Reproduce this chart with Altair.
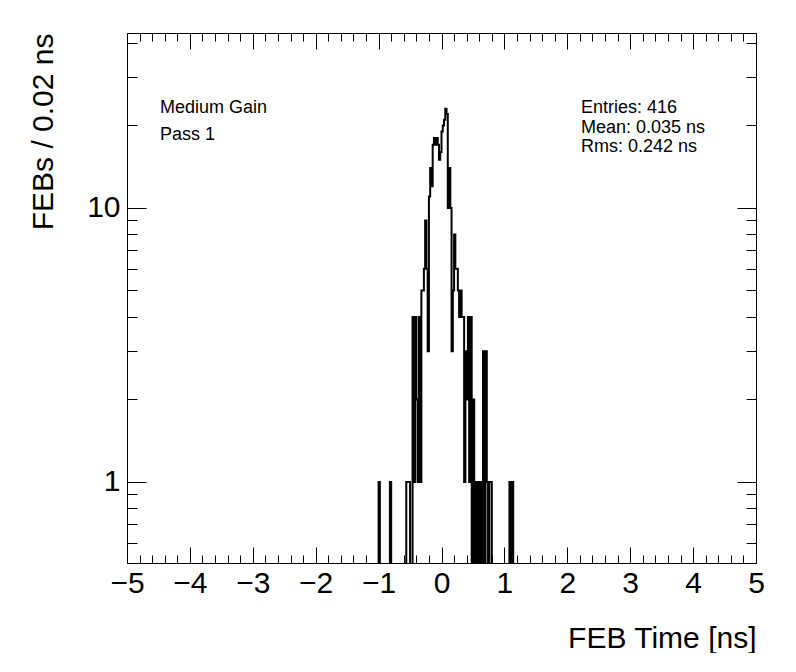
import altair as alt
import numpy as np
import pandas as pd

# ---------------- data ----------------
x_min, x_max = -5.0, 5.0
bin_width = 0.02
n_bins = 500
first_bin = 199  # index of first listed bin (bin lower edge = x_min + i*bin_width)
counts = [
    0, 1, 0, 0, 0, 0, 0, 0, 0, 0,          # 199-208
    1,                                      # 209
    0, 0, 0, 0, 0, 0, 0, 0, 0, 0, 0, 0,     # 210-221
    1, 1, 1, 0, 0,                          # 222-226
    4, 1, 4, 2, 1, 4, 1,                    # 227-233
    5, 5, 6, 9, 6, 3,                       # 234-239
    11, 14, 12,                             # 240-242
    17, 18, 17, 18, 17,                     # 243-247
    15, 16, 19, 20, 21, 23,                 # 248-253
    22, 10, 14, 10,                         # 254-257
    3, 5, 8, 6, 6, 5, 4, 5, 4, 4,           # 258-267
    1, 3, 2, 4, 1, 4, 0, 2, 0, 1, 0, 1,     # 268-279
    0, 1, 0, 3, 0, 3, 1, 0, 1, 1, 0,        # 280-290
    0, 0, 0, 0, 0, 0, 0, 0, 0, 0, 0, 0, 0,  # 291-303
    1, 0, 1, 0,                             # 304-307
]

major_x = [-5, -4, -3, -2, -1, 0, 1, 2, 3, 4, 5]
minor_x = [round(-5 + 0.2 * i, 2) for i in range(51) if i % 5 != 0]
major_y = [1, 10]
minor_y = [0.6, 0.7, 0.8, 0.9, 2, 3, 4, 5, 6, 7, 8, 9, 20, 30, 40]

left_text = ["Medium Gain", "Pass 1"]
stats_text = ["Entries: 416", "Mean: 0.035 ns", "Rms: 0.242 ns"]

x_title = "FEB Time [ns]"
y_title = "FEBs / 0.02 ns"

# ---------------- build table ----------------
full = np.zeros(n_bins)
full[first_bin:first_bin + len(counts)] = counts
edges = x_min + bin_width * np.arange(n_bins + 1)
vals = np.append(full, full[-1])
df = pd.DataFrame({"edge": np.round(edges, 4), "count": vals})
dummy = pd.DataFrame({"x": [0.0], "y": [1.0]})

W, H = 629, 530
FONT = "Liberation Sans"

xs = alt.Scale(domain=[x_min, x_max], nice=False, zero=False)
ys = alt.Scale(type="log", domain=[0.506, 43.5], nice=False)

hist = alt.Chart(df).transform_calculate(
    yplot="max(datum.count, 0.3)"
).mark_line(interpolate="step-after", color="black", strokeWidth=2, clip=True).encode(
    x=alt.X("edge:Q", scale=xs, axis=alt.Axis(
        orient="bottom", values=major_x, ticks=False, domain=False, grid=False,
        labelFont=FONT, labelFontSize=30, labelColor="black", labelPadding=5,
        labelFlush=False,
        title=x_title, titleFont=FONT, titleFontSize=30, titleFontWeight="normal",
        titleColor="black", titleAnchor="end", titleAlign="right",
        titleX=W, titleY=84, titleBaseline="alphabetic")),
    y=alt.Y("yplot:Q", scale=ys, axis=alt.Axis(
        orient="left", values=major_y, ticks=False, domain=False, grid=False,
        labelFont=FONT, labelFontSize=30, labelColor="black", labelPadding=7,
        labelFlush=False, format="d",
        title=y_title, titleFont=FONT, titleFontSize=30, titleFontWeight="normal",
        titleColor="black", titleAngle=270, titleAlign="right",
        titleX=-75, titleY=0, titleBaseline="alphabetic")),
)


def tick_layer(x_orient, y_orient, xvals, yvals, xsize, ysize):
    return alt.Chart(dummy).mark_point(opacity=0).encode(
        x=alt.X("x:Q", scale=xs, axis=alt.Axis(
            orient=x_orient, offset=-H, values=xvals, tickSize=xsize, tickWidth=1,
            tickColor="black", labels=False, domain=False, grid=False, title="")),
        y=alt.Y("y:Q", scale=ys, axis=alt.Axis(
            orient=y_orient, offset=-W, values=yvals, tickSize=ysize, tickWidth=1,
            tickColor="black", labels=False, domain=False, grid=False, title="")),
    )


ticks = [
    tick_layer("top", "right", major_x, major_y, 16, 19),
    tick_layer("top", "right", minor_x, minor_y, 8, 10),
    tick_layer("bottom", "left", major_x, major_y, 16, 19),
    tick_layer("bottom", "left", minor_x, minor_y, 8, 10),
]


def text_layer(s, px, py):
    return alt.Chart(pd.DataFrame({"t": [s]})).mark_text(
        align="left", baseline="alphabetic", font=FONT, fontSize=18, color="black"
    ).encode(text="t:N", x=alt.value(px), y=alt.value(py))


texts = [
    text_layer(left_text[0], 33, 80),
    text_layer(left_text[1], 33, 107),
    text_layer(stats_text[0], 454, 80),
    text_layer(stats_text[1], 454, 100),
    text_layer(stats_text[2], 454, 119),
]

chart = alt.layer(hist, *ticks, *texts).resolve_axis(
    x="independent", y="independent"
).properties(
    width=W, height=H,
    padding={"left": 119, "top": 25, "right": 30, "bottom": 90},
    autosize=alt.AutoSizeParams(type="none"),
    background="white",
).configure_view(stroke="black", strokeWidth=1)

chart.save("out.html", embed_options={"renderer": "svg", "actions": False})
